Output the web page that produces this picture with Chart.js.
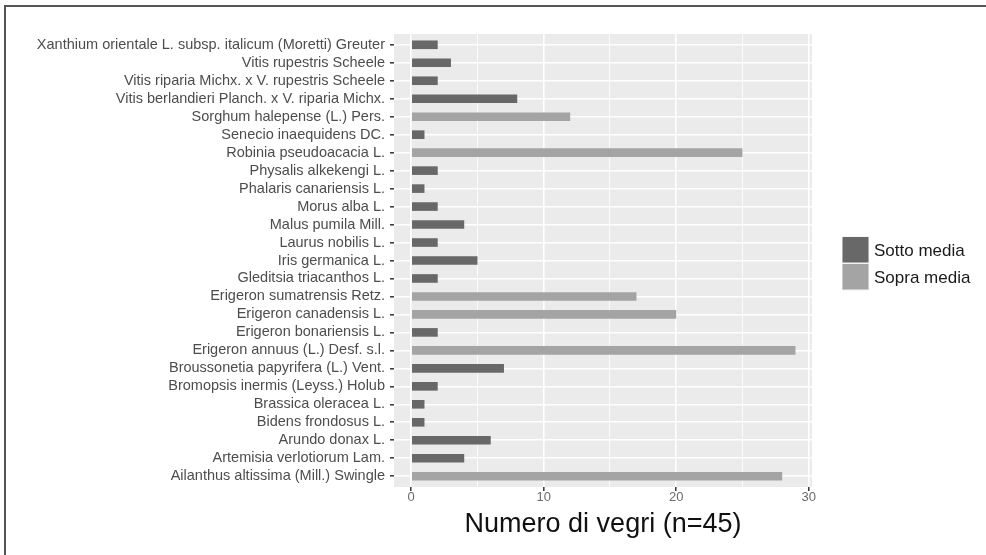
<!DOCTYPE html>
<html>
<head>
<meta charset="utf-8">
<script src="https://cdn.jsdelivr.net/npm/chart.js@4"></script>
<style>
  html, body { margin: 0; padding: 0; background: #ffffff; }
  #wrap { position: relative; width: 986px; height: 555px; }
  #frame { position: absolute; left: 4px; top: 5px; right: 0; bottom: 0;
           border-top: 2px solid #555555; border-left: 2px solid #555555; pointer-events: none; }
</style>
</head>
<body>
<div id="wrap">
  <canvas id="c"></canvas>
  <div id="frame"></div>
</div>
<script>
const categories = [
  "Xanthium orientale L. subsp. italicum (Moretti) Greuter",
  "Vitis rupestris Scheele",
  "Vitis riparia Michx. x V. rupestris Scheele",
  "Vitis berlandieri Planch. x V. riparia Michx.",
  "Sorghum halepense (L.) Pers.",
  "Senecio inaequidens DC.",
  "Robinia pseudoacacia L.",
  "Physalis alkekengi L.",
  "Phalaris canariensis L.",
  "Morus alba L.",
  "Malus pumila Mill.",
  "Laurus nobilis L.",
  "Iris germanica L.",
  "Gleditsia triacanthos L.",
  "Erigeron sumatrensis Retz.",
  "Erigeron canadensis L.",
  "Erigeron bonariensis L.",
  "Erigeron annuus (L.) Desf. s.l.",
  "Broussonetia papyrifera (L.) Vent.",
  "Bromopsis inermis (Leyss.) Holub",
  "Brassica oleracea L.",
  "Bidens frondosus L.",
  "Arundo donax L.",
  "Artemisia verlotiorum Lam.",
  "Ailanthus altissima (Mill.) Swingle"
];
const values = [2, 3, 2, 8, 12, 1, 25, 2, 1, 2, 4, 2, 5, 2, 17, 20, 2, 29, 7, 2, 1, 1, 6, 4, 28];
const groups = ["S","S","S","S","O","S","O","S","S","S","S","S","S","S","O","O","S","O","S","S","S","S","S","S","O"];
const seriesNames = ["Sotto media", "Sopra media"];
const seriesKeys = ["S", "O"];
const seriesColors = ["#686868", "#a4a4a4"];
const xTicks = [0, 5, 10, 15, 20, 25, 30];
const xTitle = "Numero di vegri (n=45)";

const FONT = '"Liberation Sans", Arial, Helvetica, sans-serif';

const panelBg = {
  id: 'panelBg',
  beforeDraw(chart) {
    const {ctx, chartArea: a} = chart;
    ctx.save();
    ctx.fillStyle = '#ebebeb';
    ctx.fillRect(a.left, a.top, a.right - a.left, a.bottom - a.top);
    ctx.restore();
  }
};

const ggLegend = {
  id: 'ggLegend',
  afterDraw(chart) {
    const {ctx, chartArea: a} = chart;
    const key = 27;
    const x = a.right + 30;
    const cy = (a.top + a.bottom) / 2 + 3;
    const y0 = cy - key;
    ctx.save();
    seriesNames.forEach((name, i) => {
      const y = y0 + i * key;
      ctx.fillStyle = '#f2f2f2';
      ctx.fillRect(x, y, key, key);
      ctx.fillStyle = seriesColors[i];
      ctx.fillRect(x + 0.5, y + 0.5, key - 1, key - 1.5);
      ctx.fillStyle = '#1a1a1a';
      ctx.font = '17px ' + FONT;
      ctx.textBaseline = 'middle';
      ctx.textAlign = 'left';
      ctx.fillText(name, x + key + 5, y + key / 2 + 1);
    });
    ctx.restore();
  }
};

const points = values.map((v, i) => ({ x: v, y: i }));
const barColors = groups.map(g => seriesColors[seriesKeys.indexOf(g)]);

new Chart(document.getElementById('c'), {
  type: 'bar',
  data: {
    datasets: [{
      label: 'Numero di vegri',
      data: points,
      backgroundColor: barColors,
      borderWidth: 0,
      barPercentage: 0.48,
      categoryPercentage: 1.0
    }]
  },
  plugins: [panelBg, ggLegend],
  options: {
    indexAxis: 'y',
    responsive: true,
    maintainAspectRatio: false,
    animation: false,
    layout: { padding: { left: 0, top: 34, right: 174, bottom: 0 } },
    plugins: { legend: { display: false }, tooltip: { enabled: false } },
    scales: {
      x: {
        type: 'linear',
        min: -1.3,
        max: 30.25,
        afterBuildTicks(scale) { scale.ticks = xTicks.map(v => ({ value: v })); },
        afterFit(scale) { scale.height = 68; },
        border: { display: false },
        grid: {
          color: '#ffffff',
          lineWidth: ctx => (ctx.tick && ctx.tick.value % 10 === 0) ? 1.6 : 0.8,
          drawTicks: true,
          tickLength: 4,
          tickWidth: 1.5,
          tickColor: ctx => (ctx.tick && ctx.tick.value % 10 === 0) ? '#333333' : 'rgba(0,0,0,0)'
        },
        ticks: {
          autoSkip: false,
          maxRotation: 0,
          padding: -1,
          color: '#6a6a6a',
          font: { family: FONT, size: 13 },
          callback: v => (v % 10 === 0 ? String(v) : '')
        },
        title: {
          display: true,
          text: xTitle,
          color: '#111111',
          font: { family: FONT, size: 27 },
          padding: { top: 0, bottom: 14 }
        }
      },
      y: {
        type: 'linear',
        reverse: true,
        offset: false,
        min: -0.6,
        max: categories.length - 0.4,
        afterBuildTicks(scale) { scale.ticks = categories.map((c, i) => ({ value: i })); },
        afterFit(scale) { scale.width = 394; },
        border: { display: false },
        grid: {
          offset: false,
          color: '#ffffff',
          lineWidth: 1.6,
          drawTicks: true,
          tickLength: 4,
          tickWidth: 1.5,
          tickColor: '#333333'
        },
        ticks: {
          autoSkip: false,
          padding: 5,
          color: '#4d4d4d',
          font: { family: FONT, size: 14.5 },
          callback: v => categories[v]
        }
      }
    }
  }
});
</script>
</body>
</html>
